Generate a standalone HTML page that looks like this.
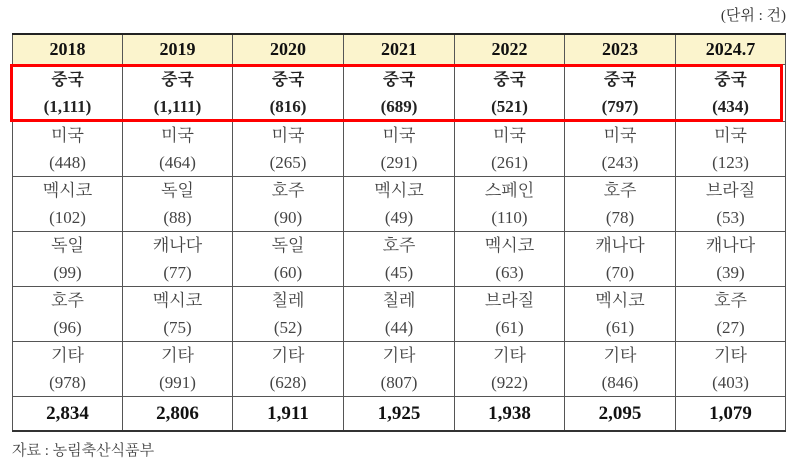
<!DOCTYPE html>
<html><head><meta charset="utf-8"><style>
body{margin:0;width:800px;height:469px;background:#fff;position:relative;overflow:hidden;font-family:"Liberation Serif","Noto Serif CJK KR","Noto Serif CJK SC",serif;}
table{position:absolute;left:12px;top:33px;border-collapse:collapse;table-layout:fixed;width:773px;}
td{border:1px solid #555;text-align:center;padding:0;color:#444;font-size:17px;line-height:27px;overflow:hidden;}
tr.h td{background:#fbf4cd;height:29px;line-height:29px;font-weight:bold;color:#111;font-size:18px;border-top:2px solid #222;}
tr.c td{height:56px;font-weight:bold;color:#222;}
tr.r td{height:54px;}
tr.t td{height:33px;line-height:33px;font-weight:bold;color:#111;font-size:19px;border-bottom:2px solid #333;}
.box{position:absolute;left:10px;top:64px;width:767px;height:52px;border:3px solid #f00;}
.unit{position:absolute;right:14px;top:4px;font-size:15px;color:#333;}
.src{position:absolute;left:12px;top:439px;font-size:15px;color:#444;}
</style></head><body>
<div class="unit">(단위 : 건)</div>
<table>
<colgroup><col style="width:110px"><col style="width:110px"><col style="width:111px"><col style="width:111px"><col style="width:110px"><col style="width:111px"><col style="width:110px"></colgroup>
<tr class="h"><td>2018</td><td>2019</td><td>2020</td><td>2021</td><td>2022</td><td>2023</td><td>2024.7</td></tr>
<tr class="c"><td>중국<br>(1,111)</td><td>중국<br>(1,111)</td><td>중국<br>(816)</td><td>중국<br>(689)</td><td>중국<br>(521)</td><td>중국<br>(797)</td><td>중국<br>(434)</td></tr>
<tr class="r"><td>미국<br>(448)</td><td>미국<br>(464)</td><td>미국<br>(265)</td><td>미국<br>(291)</td><td>미국<br>(261)</td><td>미국<br>(243)</td><td>미국<br>(123)</td></tr>
<tr class="r"><td>멕시코<br>(102)</td><td>독일<br>(88)</td><td>호주<br>(90)</td><td>멕시코<br>(49)</td><td>스페인<br>(110)</td><td>호주<br>(78)</td><td>브라질<br>(53)</td></tr>
<tr class="r"><td>독일<br>(99)</td><td>캐나다<br>(77)</td><td>독일<br>(60)</td><td>호주<br>(45)</td><td>멕시코<br>(63)</td><td>캐나다<br>(70)</td><td>캐나다<br>(39)</td></tr>
<tr class="r"><td>호주<br>(96)</td><td>멕시코<br>(75)</td><td>칠레<br>(52)</td><td>칠레<br>(44)</td><td>브라질<br>(61)</td><td>멕시코<br>(61)</td><td>호주<br>(27)</td></tr>
<tr class="r"><td>기타<br>(978)</td><td>기타<br>(991)</td><td>기타<br>(628)</td><td>기타<br>(807)</td><td>기타<br>(922)</td><td>기타<br>(846)</td><td>기타<br>(403)</td></tr>
<tr class="t"><td>2,834</td><td>2,806</td><td>1,911</td><td>1,925</td><td>1,938</td><td>2,095</td><td>1,079</td></tr>
</table>
<div class="box"></div>
<div class="src">자료 : 농림축산식품부</div>
</body></html>
